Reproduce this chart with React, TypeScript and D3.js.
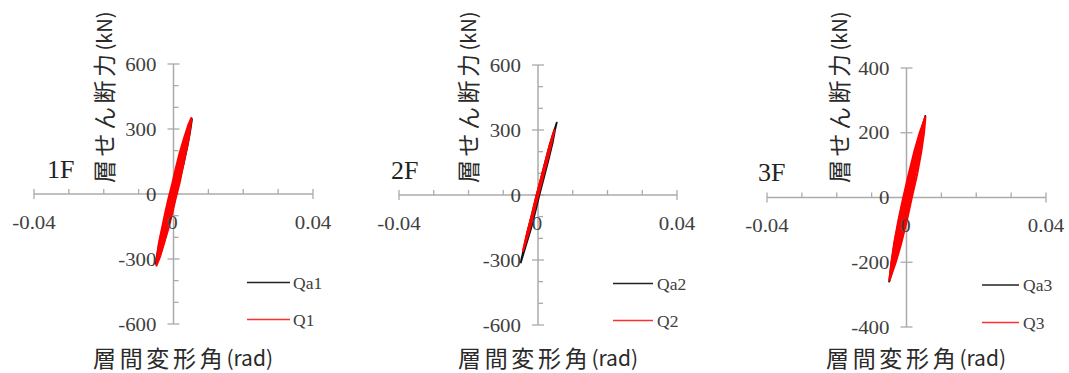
import React from 'react';
import * as d3 from 'd3';

type Pt = [number, number];

// ---------- text / labels ----------
const floorLabels = ['1F', '2F', '3F'];
const analysisNames = ['Qa1', 'Qa2', 'Qa3'];
const testNames = ['Q1', 'Q2', 'Q3'];
const yTitleJa = '層せん断力';
const yTitleUnit = '(kN)';
const xTitleJa = '層間変形角';
const xTitleUnit = '(rad)';

// ---------- axes ----------
const xDomain: [number, number] = [-0.04, 0.04];
const xMajorTicks = [-0.04, 0, 0.04];
const xTickLabels = ['-0.04', '0', '0.04'];
const xMinorTicks = [-0.03, -0.02, -0.01, 0.01, 0.02, 0.03];

const yDomain12: [number, number] = [-600, 600];
const yMajorTicks12 = [600, 300, 0, -300, -600];
const yTickLabels12 = ['600', '300', '0', '-300', '-600'];
const yMinorTicks12 = [500, 400, 200, 100, -100, -200, -400, -500];

const yDomain3: [number, number] = [-400, 400];
const yMajorTicks3 = [400, 200, 0, -200, -400];
const yTickLabels3 = ['400', '200', '0', '-200', '-400'];
const yMinorTicks3: number[] = [];

// ---------- data: [drift (rad), shear (kN)] ----------
// 1F analysis (black)
const Qa1: Pt[] = [
  [-0.0051, -325], [-0.0034, -260], [-0.0020, -180], [-0.0007, -100], [0.0005, -20],
  [0.0017, 60], [0.0029, 140], [0.0040, 220], [0.0048, 290], [0.0053, 345],
  [0.0040, 290], [0.0028, 220], [0.0013, 140], [0.0001, 60], [-0.0011, -20],
  [-0.0023, -100], [-0.0035, -180], [-0.0045, -260], [-0.0051, -325],
];
// 1F test (red)
const Q1: Pt[] = [
  [-0.0049, -330], [-0.0039, -290], [-0.0028, -230], [-0.0015, -160], [-0.0004, -90],
  [0.0006, -20], [0.0017, 50], [0.0026, 120], [0.0035, 190], [0.0044, 260],
  [0.0049, 320], [0.0051, 350],
  [0.0043, 320], [0.0031, 260], [0.0018, 190], [0.0007, 120], [-0.0003, 50],
  [-0.0014, -20], [-0.0024, -90], [-0.0033, -160], [-0.0042, -230], [-0.0047, -290],
  [-0.0049, -330],
  [-0.0044, -295], [-0.0031, -230], [-0.0019, -160], [-0.0009, -90], [0.0001, -20],
  [0.0012, 50], [0.0022, 120], [0.0032, 190], [0.0041, 260], [0.0046, 315],
  [0.0034, 260], [0.0022, 190], [0.0012, 120], [0.0002, 50], [-0.0009, -20],
  [-0.0019, -90], [-0.0029, -160], [-0.0039, -230], [-0.0044, -295],
  [-0.0038, -250], [-0.0022, -160], [-0.0012, -90], [-0.0002, -20], [0.0009, 50],
  [0.0019, 120], [0.0029, 190], [0.0040, 270],
  [0.0025, 190], [0.0015, 120], [0.0005, 50], [-0.0006, -20], [-0.0016, -90],
  [-0.0026, -160], [-0.0038, -250],
];

// 2F analysis (black)
const Qa2: Pt[] = [
  [-0.0050, -315], [-0.0036, -240], [-0.0021, -160], [-0.0008, -80], [0.0004, 0],
  [0.0017, 80], [0.0030, 160], [0.0042, 240], [0.0049, 300], [0.0054, 334],
  [0.0047, 300], [0.0035, 240], [0.0022, 160], [0.0009, 80], [-0.0004, 0],
  [-0.0016, -80], [-0.0029, -160], [-0.0040, -240], [-0.0050, -315],
];
// 2F test (red)
const Q2: Pt[] = [
  [-0.0043, -258], [-0.0028, -180], [-0.0015, -100], [-0.0003, -20], [0.0010, 60],
  [0.0023, 140], [0.0036, 220], [0.0047, 300],
  [0.0032, 220], [0.0019, 140], [0.0006, 60], [-0.0007, -20], [-0.0019, -100],
  [-0.0032, -180], [-0.0043, -258],
  [-0.0036, -215], [-0.0022, -140], [-0.0009, -60], [0.0004, 20], [0.0017, 100],
  [0.0030, 180], [0.0041, 260],
  [0.0027, 180], [0.0014, 100], [0.0001, 20], [-0.0012, -60], [-0.0025, -140],
  [-0.0036, -215],
];

// 3F analysis (black)
const Qa3: Pt[] = [
  [-0.0050, -262], [-0.0034, -200], [-0.0018, -130], [-0.0002, -60], [0.0010, 0],
  [0.0022, 60], [0.0035, 130], [0.0045, 200], [0.0054, 252],
  [0.0040, 200], [0.0022, 130], [0.0006, 60], [-0.0008, 0], [-0.0020, -60],
  [-0.0033, -130], [-0.0043, -200], [-0.0050, -262],
];
// 3F test (red)
const Q3: Pt[] = [
  [-0.0049, -256], [-0.0031, -200], [-0.0015, -140], [0.0001, -70], [0.0015, 0],
  [0.0030, 70], [0.0042, 140], [0.0050, 200], [0.0054, 248],
  [0.0038, 200], [0.0022, 140], [0.0006, 70], [-0.0009, 0], [-0.0023, -70],
  [-0.0035, -140], [-0.0043, -200], [-0.0049, -256],
  [-0.0044, -230], [-0.0024, -160], [-0.0007, -80], [0.0009, 0], [0.0025, 80],
  [0.0040, 160], [0.0048, 220],
  [0.0031, 160], [0.0013, 80], [-0.0003, 0], [-0.0019, -80], [-0.0034, -160],
  [-0.0044, -230],
  [-0.0036, -190], [-0.0017, -100], [0.0005, 0], [0.0026, 100], [0.0040, 180],
  [0.0022, 100], [0.0001, 0], [-0.0021, -100], [-0.0036, -190],
];

// ---------- layout ----------
interface PanelCfg {
  xRange: [number, number];
  yRange: [number, number];
  yDomain: [number, number];
  yMajor: number[];
  yLabels: string[];
  yMinor: number[];
  black: Pt[];
  red: Pt[];
  floor: string;
  floorPos: [number, number];
  yTitlePos: [number, number];
  xTitleX: number;
  legLine: [number, number];
  legY: [number, number];
  legText: number;
  nameA: string;
  nameB: string;
}

const panels: PanelCfg[] = [
  {
    xRange: [34, 313], yRange: [324, 64], yDomain: yDomain12,
    yMajor: yMajorTicks12, yLabels: yTickLabels12, yMinor: yMinorTicks12,
    black: Qa1, red: Q1, floor: floorLabels[0], floorPos: [47, 178],
    yTitlePos: [103, 183], xTitleX: 183,
    legLine: [247, 290], legY: [282.5, 319.5], legText: 293,
    nameA: analysisNames[0], nameB: testNames[0],
  },
  {
    xRange: [399, 677], yRange: [325, 65], yDomain: yDomain12,
    yMajor: yMajorTicks12, yLabels: yTickLabels12, yMinor: yMinorTicks12,
    black: Qa2, red: Q2, floor: floorLabels[1], floorPos: [391, 179],
    yTitlePos: [467, 183], xTitleX: 548,
    legLine: [613, 653], legY: [283.5, 320.5], legText: 657,
    nameA: analysisNames[1], nameB: testNames[1],
  },
  {
    xRange: [767, 1046], yRange: [327, 68], yDomain: yDomain3,
    yMajor: yMajorTicks3, yLabels: yTickLabels3, yMinor: yMinorTicks3,
    black: Qa3, red: Q3, floor: floorLabels[2], floorPos: [758, 181],
    yTitlePos: [838, 183], xTitleX: 916,
    legLine: [982, 1019], legY: [285, 322.5], legText: 1023,
    nameA: analysisNames[2], nameB: testNames[2],
  },
];

const AXIS = '#ababab';
const LABEL = '#404040';
const TITLE = '#2a2a2a';
const SERIF = '"Liberation Serif", "Times New Roman", serif';
const SANS = '"Noto Sans CJK JP", "Noto Sans", sans-serif';
const STRETCH = 1.1;

function Panel({ p }: { p: PanelCfg }) {
  const x = d3.scaleLinear().domain(xDomain).range(p.xRange);
  const y = d3.scaleLinear().domain(p.yDomain).range(p.yRange);
  const ax = x(0);
  const ay = y(0);
  const line = d3
    .line<Pt>()
    .x((d) => x(d[0]))
    .y((d) => y(d[1]));

  return (
    <g>
      {/* x axis */}
      <line x1={p.xRange[0]} x2={p.xRange[1]} y1={ay} y2={ay} stroke={AXIS} strokeWidth={1.5} />
      {xMinorTicks.map((t) => (
        <line key={'xm' + t} x1={x(t)} x2={x(t)} y1={ay - 5} y2={ay} stroke={AXIS} strokeWidth={1.3} />
      ))}
      {xMajorTicks.map((t) => (
        <line key={'xM' + t} x1={x(t)} x2={x(t)} y1={ay - 5} y2={ay + 5} stroke={AXIS} strokeWidth={1.3} />
      ))}
      {/* y axis */}
      <line x1={ax} x2={ax} y1={p.yRange[0]} y2={p.yRange[1]} stroke={AXIS} strokeWidth={1.5} />
      {p.yMinor.map((t) => (
        <line key={'ym' + t} x1={ax} x2={ax + 5} y1={y(t)} y2={y(t)} stroke={AXIS} strokeWidth={1.3} />
      ))}
      {p.yMajor.map((t) => (
        <line key={'yM' + t} x1={ax - 6} x2={ax + 6} y1={y(t)} y2={y(t)} stroke={AXIS} strokeWidth={1.3} />
      ))}

      {/* data */}
      <path d={line(p.black) || ''} fill="none" stroke="#111" strokeWidth={1.8} strokeLinejoin="round" />
      <path d={line(p.red) || ''} fill="none" stroke="#ff0000" strokeWidth={2.2} strokeLinejoin="round" />

      {/* tick labels */}
      {p.yMajor.map((t, i) => (
        <g key={'yl' + t} transform={`translate(${ax - 17},${y(t)}) scale(${STRETCH},1)`}>
          <text x={0} y={0} textAnchor="end" dominantBaseline="central"
            fontFamily={SERIF} fontSize={19} fill={LABEL}>{p.yLabels[i]}</text>
        </g>
      ))}
      {xMajorTicks.map((t, i) => (
        <g key={'xl' + t} transform={`translate(${x(t) - (t === 0 ? 1 : 0)},${ay + 28}) scale(${STRETCH},1)`}>
          <text x={0} y={0} textAnchor="middle" dominantBaseline="central"
            fontFamily={SERIF} fontSize={19} fill={LABEL}>{xTickLabels[i]}</text>
        </g>
      ))}

      {/* floor label */}
      <text x={p.floorPos[0]} y={p.floorPos[1]} fontFamily={SERIF} fontSize={26} fill="#222">{p.floor}</text>

      {/* y title */}
      <text transform={`translate(${p.yTitlePos[0]},${p.yTitlePos[1]}) rotate(-90)`} textAnchor="start"
        dominantBaseline="central" fontFamily={SANS} fill={TITLE}>
        <tspan fontSize={23} letterSpacing={3.5}>{yTitleJa}</tspan>
        <tspan fontSize={20}>{yTitleUnit}</tspan>
      </text>

      {/* x title */}
      <text x={p.xTitleX} y={357} textAnchor="middle" dominantBaseline="central"
        fontFamily={SANS} fill={TITLE}>
        <tspan fontSize={23} letterSpacing={3.7}>{xTitleJa}</tspan>
        <tspan fontSize={21}>{xTitleUnit}</tspan>
      </text>

      {/* legend */}
      <line x1={p.legLine[0]} x2={p.legLine[1]} y1={p.legY[0]} y2={p.legY[0]} stroke="#222" strokeWidth={1.5} />
      <text x={p.legText} y={p.legY[0]} dominantBaseline="central" fontFamily={SERIF} fontSize={17.5} fill={LABEL}>{p.nameA}</text>
      <line x1={p.legLine[0]} x2={p.legLine[1]} y1={p.legY[1]} y2={p.legY[1]} stroke="#ff3030" strokeWidth={1.5} />
      <text x={p.legText} y={p.legY[1]} dominantBaseline="central" fontFamily={SERIF} fontSize={17.5} fill={LABEL}>{p.nameB}</text>
    </g>
  );
}

export default function App() {
  return (
    <svg width={1069} height={373} viewBox="0 0 1069 373"
      style={{ position: 'absolute', left: 0, top: 0, background: '#fff' }}>
      <rect x={0} y={0} width={1069} height={373} fill="#fff" />
      {panels.map((p, i) => (
        <Panel key={i} p={p} />
      ))}
    </svg>
  );
}
